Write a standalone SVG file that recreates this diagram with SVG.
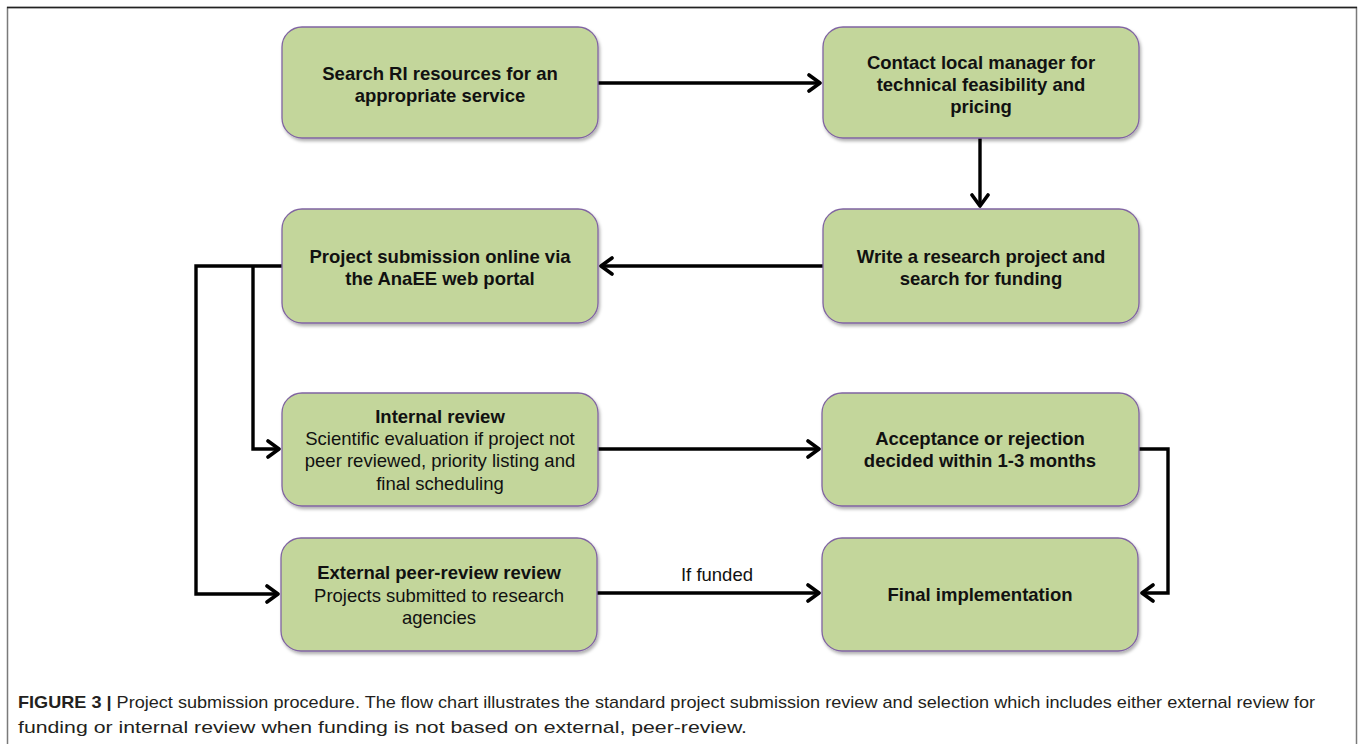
<svg xmlns="http://www.w3.org/2000/svg" width="1360" height="744" viewBox="0 0 1360 744">
<style>
.box{fill:#c3d69b;stroke:#8064a2;stroke-width:1.3;filter:url(#sh)}
.t{font-family:"Liberation Sans",Arial,sans-serif;font-size:18.5px;fill:#111;text-anchor:middle}
.b{font-weight:bold}
.c{fill:none;stroke:#000;stroke-width:3.4;stroke-linejoin:miter}
.cap{font-family:"Liberation Sans",Arial,sans-serif;font-size:17px;fill:#231f20}
</style>
<defs>
<filter id="sh" x="-10%" y="-10%" width="120%" height="130%">
<feDropShadow dx="1.5" dy="2.5" stdDeviation="1.5" flood-color="#000" flood-opacity="0.3"/>
</filter>
<marker id="ah" markerUnits="userSpaceOnUse" markerWidth="20" markerHeight="20" viewBox="-14 -10 16 20" refX="0" refY="0" orient="auto">
<path d="M-11,-8 L0,0 L-11,8" fill="none" stroke="#000" stroke-width="3.6" stroke-linecap="round" stroke-linejoin="round"/>
</marker>
</defs>
<rect width="1360" height="744" fill="#fff"/>
<rect x="7.5" y="7.5" width="1349" height="760" fill="none" stroke="#7a7a7a" stroke-width="1.5"/>
<line x1="7" y1="7.5" x2="1357" y2="7.5" stroke="#222" stroke-width="1.5"/>

<g id="connectors">
<path class="c" d="M598,83 H820" marker-end="url(#ah)"/>
<path class="c" d="M980,138 V206" marker-end="url(#ah)"/>
<path class="c" d="M823,266 H601" marker-end="url(#ah)"/>
<path class="c" d="M282,266 H196 V594 H278" marker-end="url(#ah)"/>
<path class="c" d="M253,266 V449 H279" marker-end="url(#ah)"/>
<path class="c" d="M598,449 H819" marker-end="url(#ah)"/>
<path class="c" d="M597,593 H819" marker-end="url(#ah)"/>
<path class="c" d="M1139,449 H1168 V593 H1142" marker-end="url(#ah)"/>
<text class="t" x="717" y="581" font-size="18">If funded</text>
</g>

<g id="n1">
<rect class="box" x="282" y="27" width="316" height="111" rx="20"/>
<text class="t b" x="440" y="80">Search RI resources for an</text>
<text class="t b" x="440" y="102">appropriate service</text>
</g>
<g id="n2">
<rect class="box" x="823" y="27" width="316" height="111" rx="20"/>
<text class="t b" x="981" y="69">Contact local manager for</text>
<text class="t b" x="981" y="91">technical feasibility  and</text>
<text class="t b" x="981" y="113">pricing</text>
</g>
<g id="n3">
<rect class="box" x="282" y="209" width="316" height="114" rx="20"/>
<text class="t b" x="440" y="263">Project submission online via</text>
<text class="t b" x="440" y="285">the AnaEE web portal</text>
</g>
<g id="n4">
<rect class="box" x="823" y="209" width="316" height="114" rx="20"/>
<text class="t b" x="981" y="263">Write a research project and</text>
<text class="t b" x="981" y="285">search for funding</text>
</g>
<g id="n5">
<rect class="box" x="282" y="393" width="316" height="113" rx="20"/>
<text class="t b" x="440" y="423">Internal review</text>
<text class="t" x="440" y="445">Scientific evaluation if project not</text>
<text class="t" x="440" y="467">peer reviewed, priority listing and</text>
<text class="t" x="440" y="490">final scheduling</text>
</g>
<g id="n6">
<rect class="box" x="281" y="538" width="316" height="113" rx="20"/>
<text class="t b" x="439" y="579">External peer-review review</text>
<text class="t" x="439" y="602">Projects submitted to research</text>
<text class="t" x="439" y="624">agencies</text>
</g>
<g id="n7">
<rect class="box" x="822" y="393" width="317" height="113" rx="20"/>
<text class="t b" x="980" y="445">Acceptance or rejection</text>
<text class="t b" x="980" y="467">decided within 1-3 months</text>
</g>
<g id="n8">
<rect class="box" x="822" y="538" width="316" height="113" rx="20"/>
<text class="t b" x="980" y="601">Final implementation</text>
</g>

<g id="caption">
<text class="cap" x="18" y="708" textLength="1297" lengthAdjust="spacingAndGlyphs"><tspan font-weight="bold">FIGURE 3 |</tspan> Project submission procedure. The flow chart illustrates the standard project submission review and selection which includes either external review for</text>
<text class="cap" x="18" y="733" textLength="729" lengthAdjust="spacingAndGlyphs">funding or internal review when funding is not based on external, peer-review.</text>
</g>
</svg>
